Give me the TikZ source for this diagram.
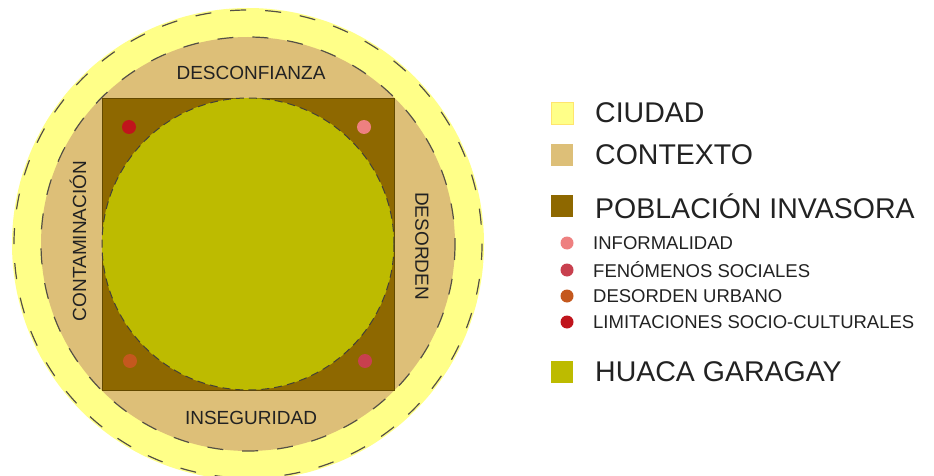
\documentclass[tikz,border=0pt]{standalone}
\usepackage{fontspec}
\setmainfont{Liberation Sans}
\definecolor{ciudad}{HTML}{FFFF88}
\definecolor{contexto}{HTML}{DDBF78}
\definecolor{poblacion}{HTML}{8E6800}
\definecolor{huaca}{HTML}{BDBB00}
\definecolor{informal}{HTML}{EE8080}
\definecolor{fenomenos}{HTML}{C8404E}
\definecolor{urbano}{HTML}{C4581E}
\definecolor{limita}{HTML}{C0141C}
\definecolor{txt}{HTML}{222222}
\definecolor{dashc}{HTML}{555045}
\tikzset{
  dashring/.style={draw=dashc, line width=1.2pt, dash pattern=on 16pt off 19pt},
  innerdash/.style={draw=dashc!80!black, line width=1pt, dash pattern=on 8pt off 5pt},
  lbl/.style={text=txt, font=\fontsize{19}{19}\selectfont, inner sep=0pt},
  bigleg/.style={text=txt, font=\fontsize{28.5}{28.5}\selectfont, inner sep=0pt, anchor=west},
  smallleg/.style={text=txt, font=\fontsize{18.5}{18.5}\selectfont, inner sep=0pt, anchor=west},
  legsq/.style={minimum size=22pt, inner sep=0pt, draw=none},
  dotm/.style={circle, minimum size=14pt, inner sep=0pt, draw=none},
  legdot/.style={circle, minimum size=13pt, inner sep=0pt, draw=none},
}
\begin{document}
\begin{tikzpicture}[x=1pt,y=-1pt]
\useasboundingbox (0,0) rectangle (934,476);
\clip (0,0) rectangle (934,476);
\fill[white] (0,0) rectangle (934,476);
\coordinate (c) at (248,244);
% rings
\fill[ciudad] (c) circle (236);
\draw[dashring] (c) circle (234);
\fill[contexto] (c) circle (207);
\draw[dashring] (c) circle (207);
% square
\draw[fill=poblacion, draw=poblacion!70!black, line width=0.8pt] (102,98) rectangle (394,390);
% inner circle
\fill[huaca] (c) circle (146);
\draw[innerdash] (c) circle (146);
% dots
\node[dotm, fill=limita] (d1) at (129,127) {};
\node[dotm, fill=informal] (d2) at (364,127) {};
\node[dotm, fill=urbano] (d3) at (130,361) {};
\node[dotm, fill=fenomenos] (d4) at (365,361) {};
% ring labels
\node[lbl] (desconf) at (251,73) {DESCONFIANZA};
\node[lbl] (inseg) at (251,418) {INSEGURIDAD};
\node[lbl, rotate=90] (contam) at (78,241) {CONTAMINACIÓN};
\node[lbl, rotate=-90] (desord) at (422,246) {DESORDEN};
% legend
\node[legsq, fill=ciudad, draw=ciudad!80!orange] (s1) at (562,113) {};
\node[bigleg] (t1) at (595,113) {CIUDAD};
\node[legsq, fill=contexto] (s2) at (562,155) {};
\node[bigleg] (t2) at (595,155) {CONTEXTO};
\node[legsq, fill=poblacion] (s3) at (562,206) {};
\node[bigleg] (t3) at (595,206) {POBLACIÓN INVASORA};
\node[legdot, fill=informal] (l1) at (567,243) {};
\node[smallleg] (u1) at (593,243) {INFORMALIDAD};
\node[legdot, fill=fenomenos] (l2) at (567,270) {};
\node[smallleg] (u2) at (593,270) {FENÓMENOS SOCIALES};
\node[legdot, fill=urbano] (l3) at (567,296) {};
\node[smallleg] (u3) at (593,296) {DESORDEN URBANO};
\node[legdot, fill=limita] (l4) at (567,322) {};
\node[smallleg] (u4) at (593,322) {LIMITACIONES SOCIO-CULTURALES};
\node[legsq, fill=huaca] (s4) at (562,372) {};
\node[bigleg] (t4) at (595,372) {HUACA GARAGAY};
\end{tikzpicture}
\end{document}
